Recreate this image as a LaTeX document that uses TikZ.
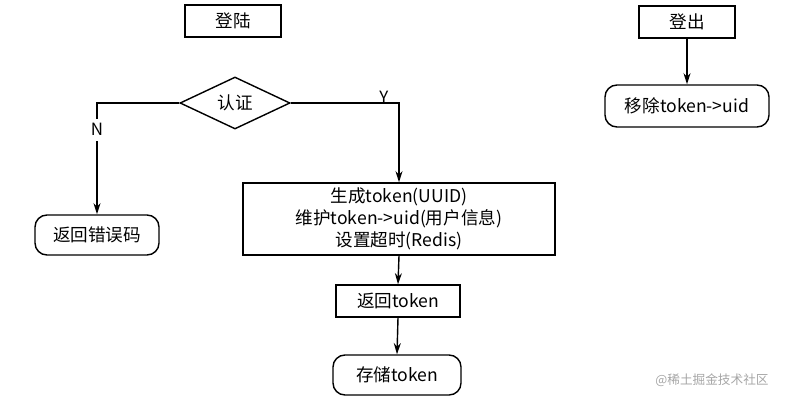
\documentclass[tikz,border=0pt]{standalone}
\usepackage{fontspec}
\setmainfont{Noto Sans CJK SC}
\usetikzlibrary{shapes.geometric,arrows.meta}
\tikzset{
  flow/.style={draw, line width=1pt, minimum height=0.8cm, font=\fontsize{12.5}{15.5}\selectfont},
  roundbox/.style={flow, rounded corners=0.3cm},
  decide/.style={draw, line width=1pt, diamond, aspect=2.1, inner sep=1pt, minimum width=2.75cm, minimum height=1.3cm, font=\fontsize{12.5}{15.5}\selectfont},
  link/.style={line width=1pt, -{Stealth[length=8pt,width=5pt]}},
  tag/.style={font=\fontsize{12}{14}\selectfont}
}
\begin{document}
\begin{tikzpicture}[x=0.025cm,y=-0.025cm]
  \useasboundingbox (0,0) rectangle (800,402);
  % left: login
  \node[flow, minimum width=2.4cm] (login) at (233,21) {登陆};
  \node[decide] (auth) at (235,103) {认证};
  \node[roundbox, minimum width=3.1cm, minimum height=1cm] (err) at (97,235) {返回错误码};
  \node[flow, minimum width=7.8cm, minimum height=1.8cm, align=center, inner sep=1pt] (gen) at (399,219)
    {生成token(UUID)\\维护token->uid(用户信息)\\设置超时(Redis)};
  \node[flow, minimum width=3.1cm] (ret) at (398,301) {返回token};
  \node[roundbox, minimum width=3.2cm, minimum height=1cm] (save) at (397,375) {存储token};
  \draw[link] (auth.west) -| node[tag, pos=0.62, fill=white] {N} (err.north);
  \draw[link] (auth.east) -| node[tag, pos=0.45, above left=-4pt] {Y} (gen.north);
  \draw[link] (gen.south) -- (ret.north);
  \draw[link] (ret.south) -- (save.north);
  % right: logout
  \node[flow, minimum width=2.4cm] (logout) at (687,22) {登出};
  \node[roundbox, minimum width=4.1cm, minimum height=1.05cm] (remove) at (687,106) {移除token->uid};
  \draw[link] (logout.south) -- (remove.north);
  \node[text=gray!70, font=\small] (mark) at (712,380) {@稀土掘金技术社区};
\end{tikzpicture}
\end{document}
